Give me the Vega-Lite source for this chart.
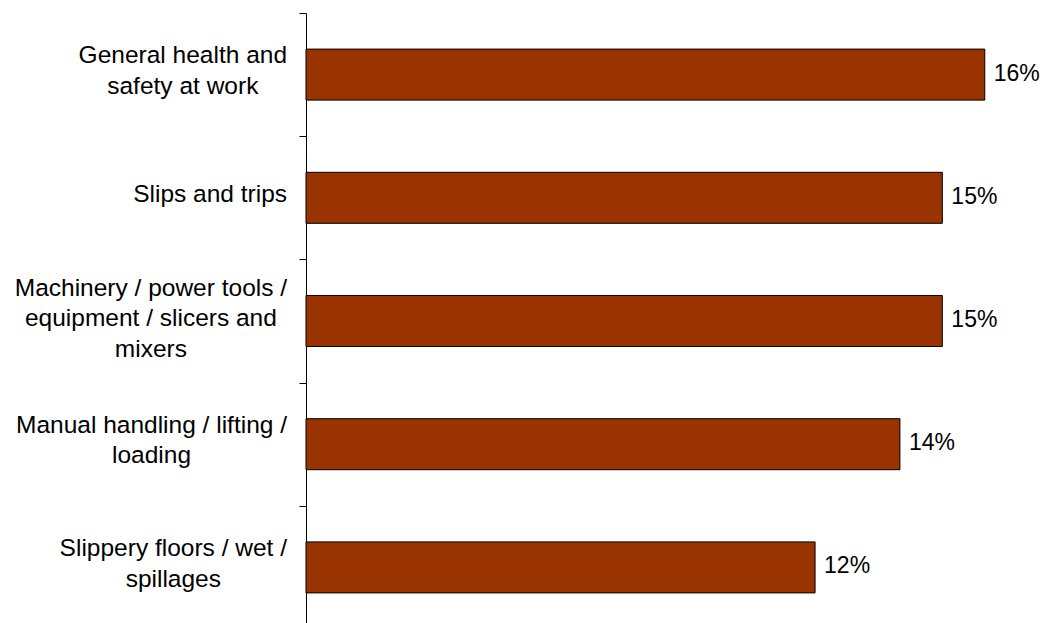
{
  "$schema": "https://vega.github.io/schema/vega-lite/v6.json",
  "width": 739,
  "height": 616,
  "autosize": {"type": "none"},
  "padding": {"left": 306, "top": 13, "right": 0, "bottom": 0},
  "background": "white",
  "config": {"view": {"stroke": null}},
  "data": {
    "values": [
      {"category": "General health and|safety at work", "value": 0.16},
      {"category": "Slips and trips", "value": 0.15},
      {"category": "Machinery / power tools /|equipment / slicers and|mixers", "value": 0.15},
      {"category": "Manual handling / lifting /|loading", "value": 0.14},
      {"category": "Slippery floors / wet /|spillages", "value": 0.12}
    ]
  },
  "encoding": {
    "y": {
      "field": "category",
      "type": "nominal",
      "sort": null,
      "scale": {"paddingInner": 0, "paddingOuter": 0},
      "axis": {
        "title": null,
        "labelExpr": "isString(datum.value) ? split(datum.value, '|') : ''",
        "labelFont": "Liberation Sans",
        "labelFontSize": 24.5,
        "labelColor": "#000000",
        "labelAlign": "center",
        "labelBaseline": "middle",
        "labelLineHeight": 30.7,
        "labelPadding": 116.7,
        "labelLimit": 500,
        "tickSize": 7,
        "tickColor": "#000000",
        "tickWidth": 1,
        "domainColor": "#000000",
        "domainWidth": 1,
        "tickBand": "extent",
        "encoding": {
          "labels": {
            "dx": {
              "condition": [
                {"test": "isString(datum.value) && datum.value === 'Slips and trips'", "value": 27.3},
                {"test": "isString(datum.value) && indexof(datum.value, 'Machinery') === 0", "value": -31.9},
                {"test": "isString(datum.value) && indexof(datum.value, 'Manual') === 0", "value": -31.3},
                {"test": "isString(datum.value) && indexof(datum.value, 'Slippery') === 0", "value": -9.5}
              ],
              "value": 0
            },
            "dy": {
              "condition": [
                {"test": "isString(datum.value) && datum.value === 'Slips and trips'", "value": -3},
                {"test": "isString(datum.value) && indexof(datum.value, 'Machinery') === 0", "value": -32.7}
              ],
              "value": -19
            }
          }
        }
      }
    }
  },
  "layer": [
    {
      "mark": {"type": "bar", "fill": "#993300", "stroke": "#000000", "strokeWidth": 1, "height": {"band": 0.414}},
      "encoding": {
        "x": {"field": "value", "type": "quantitative", "scale": {"domain": [0, 0.1742], "nice": false}, "axis": null}
      }
    },
    {
      "mark": {"type": "text", "align": "left", "baseline": "middle", "dx": 9, "dy": -1, "fontSize": 23, "font": "Liberation Sans", "fill": "#000000"},
      "encoding": {
        "x": {"field": "value", "type": "quantitative"},
        "text": {"field": "value", "format": ".0%"}
      }
    }
  ]
}
